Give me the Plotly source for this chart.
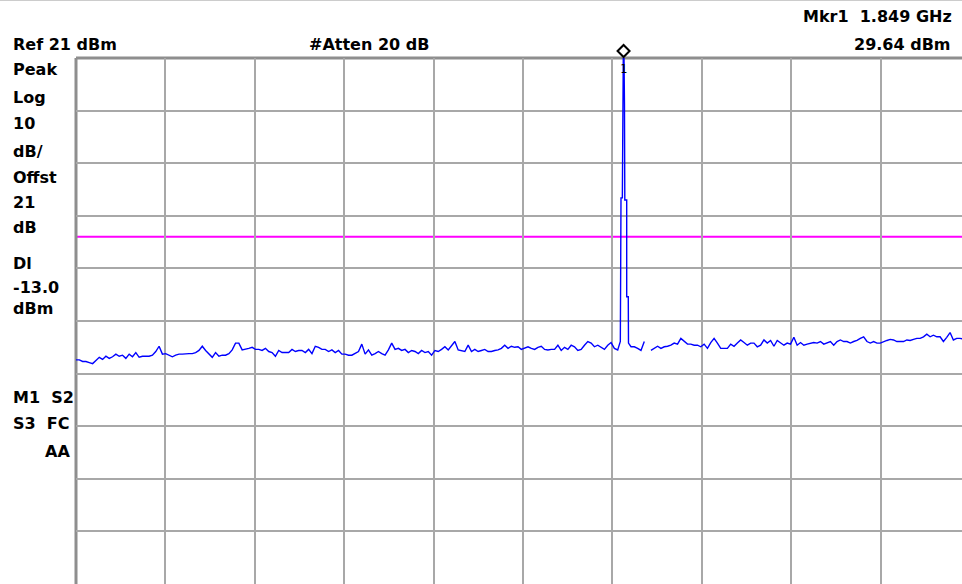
import numpy as np
import plotly.graph_objects as go

# ---------------- data ----------------
ref_level_dbm = 21.0
db_per_div = 10.0
n_div = 10
start_mhz = 1800.0
stop_mhz = 1880.0
display_line_dbm = -13.0
mkr_freq_mhz = 1849.0
mkr_level_dbm = 29.64

# noise floor trace, read left to right (dBm)
noise_seg1 = [-36.4, -36.4, -36.7, -36.7, -36.9, -37.1, -36.5, -35.9, -36.3, -35.7,
              -36.1, -35.8, -35.3, -35.7, -35.5, -36.1, -35.3, -35.8, -35.0, -35.9,
              -35.7, -35.7, -35.7, -35.5, -34.8, -33.8, -35.3, -35.2, -35.5, -35.8,
              -35.5, -35.3, -35.3, -35.2, -35.2, -35.2, -35.0, -34.6, -33.8, -34.6,
              -35.2, -35.9, -35.0, -35.7, -35.5, -35.5, -35.2, -34.5, -33.2, -33.2,
              -34.5, -34.4, -34.2, -34.0, -34.4, -34.4, -34.6, -34.2, -34.8, -35.0,
              -35.7, -34.6, -35.0, -35.0, -35.0, -34.4, -34.8, -34.6]
noise_seg2 = [-34.6, -35.0, -34.4, -35.2, -33.8, -34.0, -34.4, -34.4, -34.8, -34.5,
              -35.0, -34.6, -35.3, -35.3, -35.5, -35.5, -35.2, -34.8, -33.4, -35.3,
              -34.5, -35.5, -35.2, -34.8, -35.2, -35.5, -34.5, -33.2, -34.4, -34.2,
              -34.6, -34.4, -35.0, -34.6, -34.8, -35.2, -34.6, -35.0, -34.8, -35.5,
              -34.6, -34.8, -34.4, -33.9, -34.5, -33.8, -32.9, -34.5, -34.6, -34.8,
              -33.6, -34.8, -34.4, -34.8, -34.6, -34.4, -34.8, -34.8, -34.6, -34.5,
              -34.2, -33.6, -34.2, -33.8, -34.0, -33.9, -34.4, -34.2]
noise_seg3 = [-33.9, -34.2, -34.4, -34.0, -33.8, -34.4, -34.5, -34.4, -34.4, -33.6,
              -34.6, -34.0, -34.4, -33.6, -33.9, -34.6, -34.4, -33.6, -32.9, -33.2,
              -33.9, -33.6, -34.0, -34.4, -33.6, -33.1, -34.2, -34.5, None, None,
              None, -33.9, -33.9, -34.2, -34.6, -32.9, None, -34.6, -34.2, -33.8,
              -34.2, -33.9, -33.8, -33.6, -33.2, -33.4, -32.3, -32.9, -33.4, -33.4,
              -33.6, -33.6, -33.9, -33.4, -34.2, -33.1, -32.3, -33.2, -34.2, -34.2,
              -34.2, -33.4, -33.8, -33.2, -32.6, -33.1, -33.6, -33.2]
noise_seg4 = [-33.2, -33.9, -33.6, -32.6, -33.2, -32.7, -33.8, -32.7, -33.2, -33.6,
              -33.2, -33.4, -32.1, -33.6, -33.1, -33.6, -33.4, -33.2, -33.1, -33.2,
              -32.9, -33.4, -33.1, -32.9, -33.6, -32.9, -32.6, -32.9, -32.9, -33.2,
              -32.9, -32.7, -32.3, -32.0, -32.9, -33.2, -32.9, -33.2, -33.2, -32.9,
              -32.7, -32.5, -32.6, -32.9, -32.9, -32.9, -32.6, -32.7, -32.5, -32.3,
              -32.3, -32.0, -31.5, -32.0, -31.7, -32.0, -32.0, -32.9, -32.1, -31.2,
              -32.6, -32.3, -32.3, -32.4, -32.2, -32.3]

# carrier peak detail (MHz, dBm)
peak_freq_mhz = [1848.71, 1848.77, 1848.89, 1849.00, 1849.08, 1849.11,
                 1849.28, 1849.28, 1849.42, 1849.44]
peak_level_dbm = [-32.9, -5.6, -5.6, 29.64, 12.1, -6.0,
                  -6.0, -24.4, -24.4, -33.2]

# ---------------- assemble trace ----------------
noise_level = noise_seg1 + noise_seg2 + noise_seg3 + noise_seg4
noise_freq = np.linspace(start_mhz, stop_mhz, len(noise_level))
pts = [(f, v) for f, v in zip(noise_freq, noise_level)
       if f < peak_freq_mhz[0] or f > peak_freq_mhz[-1]]
pts += list(zip(peak_freq_mhz, peak_level_dbm))
pts.sort(key=lambda p: p[0])
trace_f = [p[0] for p in pts]
trace_v = [p[1] for p in pts]

bottom_dbm = ref_level_dbm - n_div * db_per_div
div_mhz = (stop_mhz - start_mhz) / n_div

# ---------------- layout geometry (pixels) ----------------
W, H = 962, 584
L, T = 76, 58
plot_w = W - L
plot_h = H - T
full_w = 894.0  # width of the 10 divisions (extends past the window)
x_visible_stop = start_mhz + (stop_mhz - start_mhz) * plot_w / full_w
mkr_paper_x = (mkr_freq_mhz - start_mhz) / (x_visible_stop - start_mhz)

def px(x):
    return (x - L) / plot_w

def py(y):
    return (H - y) / plot_h

FONT = "DejaVu Sans"
TXT = "#000000"

fig = go.Figure()
fig.add_trace(go.Scatter(
    x=trace_f, y=trace_v, mode="lines",
    line=dict(color="#0000ff", width=1.4),
    connectgaps=False, hoverinfo="skip", showlegend=False,
))

annotations = []

def label(text, x, y, anchor="left", size=16):
    annotations.append(dict(
        text=text, xref="paper", yref="paper", x=px(x), y=py(y),
        xanchor=anchor, yanchor="middle", showarrow=False,
        font=dict(family=FONT, size=size, color=TXT, weight="bold"),
    ))

nb = "\u00a0"
label("Ref 21 dBm", 11, 44)
label("#Atten 20 dB", 307, 44)
label(f"Mkr1{nb}{nb}1.849 GHz", 954, 16, anchor="right")
label(f"{mkr_level_dbm:.2f} dBm", 953, 44, anchor="right")
for txt, yy in [("Peak", 70), ("Log", 97), ("10", 123), ("dB/", 151),
                ("Offst", 177), ("21", 202), ("dB", 227), ("Dl", 263),
                ("-13.0", 287), ("dBm", 308)]:
    label(txt, 11, yy)
label(f"M1{nb}{nb}S2", 11, 397)
label(f"S3{nb}{nb}FC", 11, 423)
label("AA", 72, 451, anchor="right")

# marker number under the diamond
annotations.append(dict(
    text="1", x=mkr_paper_x, y=1, xref="paper", yref="paper",
    yshift=-11, showarrow=False, xanchor="center", yanchor="middle",
    font=dict(family="DejaVu Sans Mono", size=12, color="#000000"),
))

shapes = [
    # display line
    dict(type="line", xref="paper", yref="y", x0=0, x1=1,
         y0=display_line_dbm, y1=display_line_dbm,
         line=dict(color="#ff00ff", width=2), layer="between"),
    # thicker left/top frame
    dict(type="line", xref="paper", yref="paper", x0=0, x1=0, y0=0, y1=1,
         line=dict(color="#8e8e8e", width=3), layer="below"),
    dict(type="line", xref="paper", yref="paper", x0=0, x1=1, y0=1, y1=1,
         line=dict(color="#8e8e8e", width=3), layer="below"),
    # faint line at the very top of the screen
    dict(type="line", xref="paper", yref="paper", x0=px(0), x1=px(W),
         y0=py(0.5), y1=py(0.5), line=dict(color="#cccccc", width=1)),
    # marker diamond sitting on the top graticule at the marker frequency
    dict(type="path", xref="paper", yref="paper",
         xsizemode="pixel", ysizemode="pixel",
         xanchor=mkr_paper_x, yanchor=1,
         path="M -6,7 L 0,13 L 6,7 L 0,1 Z",
         line=dict(color="#000000", width=2), fillcolor="rgba(0,0,0,0)",
         layer="above"),
]

fig.update_layout(
    width=W, height=H,
    margin=dict(l=L, r=0, t=T, b=0, pad=0),
    paper_bgcolor="#ffffff", plot_bgcolor="#ffffff",
    xaxis=dict(range=[start_mhz, x_visible_stop], tick0=start_mhz, dtick=div_mhz,
               showgrid=True, gridcolor="#a8a8a8", gridwidth=2,
               showticklabels=False, ticks="", zeroline=False, showline=False,
               fixedrange=True),
    yaxis=dict(range=[bottom_dbm, ref_level_dbm], tick0=bottom_dbm, dtick=db_per_div,
               showgrid=True, gridcolor="#a8a8a8", gridwidth=2,
               showticklabels=False, ticks="", zeroline=False, showline=False,
               fixedrange=True),
    annotations=annotations,
    shapes=shapes,
    showlegend=False,
)

fig.write_html(
    "out.html",
    config={"displayModeBar": False, "staticPlot": True},
    post_script="document.body.style.margin='0';document.body.style.overflow='hidden';",
)
